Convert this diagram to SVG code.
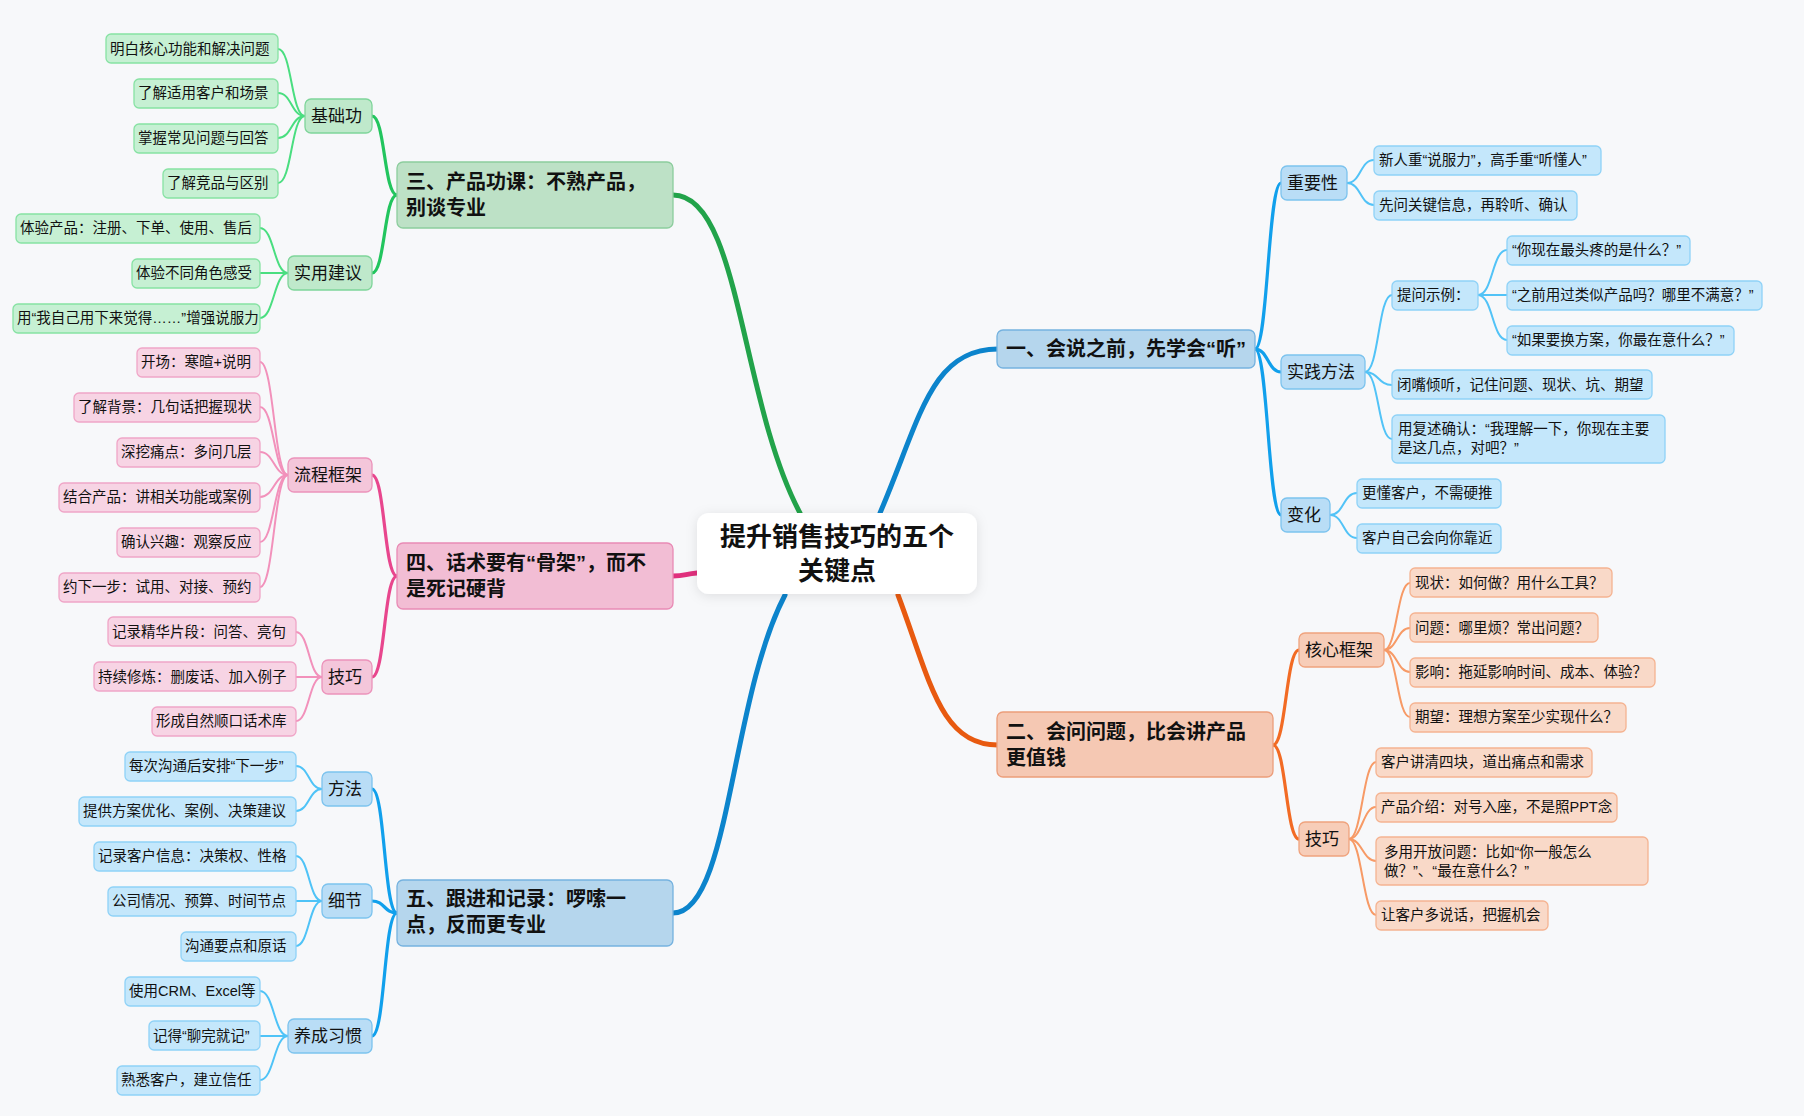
<svg xmlns="http://www.w3.org/2000/svg" width="1804" height="1116" viewBox="0 0 1804 1116">
<defs>
<filter id="sh" x="-20%" y="-30%" width="140%" height="160%"><feDropShadow dx="0" dy="2" stdDeviation="6" flood-color="#000" flood-opacity="0.10"/></filter>
<style>
text{font-family:"Liberation Sans","Noto Sans CJK SC",sans-serif;fill:#111}
.lf{font-size:14.5px;transform:translateX(-2px)}.sb{font-size:17px}.tp{font-size:20px;font-weight:bold}.ct{font-size:26px;font-weight:bold}
.c path{fill:none;stroke-linecap:round}
.m{stroke-width:5}.s{stroke-width:3.2}.l{stroke-width:2}
.bl1{fill:#c4e7fb;stroke:#8fd2f7}.bs{fill:#b9ddf6;stroke:#7cc3ee}.bt{fill:#b5d6ed;stroke:#75b2df}
.gl{fill:#c6f0d3;stroke:#87e2a3}.gs{fill:#bfe9cb;stroke:#7fd59a}.gt{fill:#bde1c6;stroke:#8ccd9d}
.pl{fill:#f7d4e4;stroke:#f0a5c7}.ps{fill:#f4c6da;stroke:#ec93bb}.pt{fill:#f2bdd4;stroke:#e98ab5}
.ol{fill:#f9d9c8;stroke:#f5b391}.os{fill:#f7cdb8;stroke:#f0a37d}.ot{fill:#f5c8b3;stroke:#ec9d7a}
rect{stroke-width:1.3}
</style>
</defs>
<rect width="1804" height="1116" fill="#f7f8fa"/>

<g id="connectors" class="c">
<path class="m" stroke="#0c84cc" d="M880,513 C920,420 930,349 998,349"/>
<path class="m" stroke="#e85a10" d="M898,595 C930,680 940,745 998,745"/>
<path class="m" stroke="#22a34a" d="M800,513 C740,400 740,195 673,195"/>
<path class="m" stroke="#e0307d" d="M697,573 C685,574 685,576 673,576"/>
<path class="m" stroke="#0c84cc" d="M785,595 C730,700 730,913 673,913"/>
<path class="s" stroke="#11a0ec" d="M1255,349 C1268,349 1268,183 1281,183"/>
<path class="s" stroke="#11a0ec" d="M1255,349 C1268,349 1268,372 1281,372"/>
<path class="s" stroke="#11a0ec" d="M1255,349 C1268,349 1268,515 1281,515"/>
<path class="s" stroke="#f26b24" d="M1273,745 C1286,745 1286,650 1299,650"/>
<path class="s" stroke="#f26b24" d="M1273,745 C1286,745 1286,839 1299,839"/>
<path class="s" stroke="#22c55e" d="M397,195 C384,195 385,116 372,116"/>
<path class="s" stroke="#22c55e" d="M397,195 C384,195 385,273 372,273"/>
<path class="s" stroke="#e8468d" d="M397,576 C384,576 385,475 372,475"/>
<path class="s" stroke="#e8468d" d="M397,576 C384,576 385,677 372,677"/>
<path class="s" stroke="#11a0ec" d="M397,913 C384,913 385,789 372,789"/>
<path class="s" stroke="#11a0ec" d="M397,913 C384,913 385,901 372,901"/>
<path class="s" stroke="#11a0ec" d="M397,913 C384,913 385,1036 372,1036"/>
<g stroke="#52c3f7">
<path class="l" d="M1347,183 C1361,183 1360,160 1374,160"/>
<path class="l" d="M1347,183 C1361,183 1360,205 1374,205"/>
<path class="l" d="M1365,372 C1379,372 1378,295 1392,295"/>
<path class="l" d="M1365,372 C1379,372 1378,385 1392,385"/>
<path class="l" d="M1365,372 C1379,372 1378,439 1392,439"/>
<path class="l" d="M1478,295 C1493,295 1492,250 1507,250"/>
<path class="l" d="M1478,295 L1507,295"/>
<path class="l" d="M1478,295 C1493,295 1492,340 1507,340"/>
<path class="l" d="M1330,515 C1344,515 1343,493 1357,493"/>
<path class="l" d="M1330,515 C1344,515 1343,538 1357,538"/>
</g>
<g stroke="#f79a66">
<path class="l" d="M1384,650 C1397,650 1397,583 1410,583"/>
<path class="l" d="M1384,650 C1397,650 1397,628 1410,628"/>
<path class="l" d="M1384,650 C1397,650 1397,672 1410,672"/>
<path class="l" d="M1384,650 C1397,650 1397,717 1410,717"/>
<path class="l" d="M1349,839 C1362,839 1363,762 1376,762"/>
<path class="l" d="M1349,839 C1362,839 1363,807 1376,807"/>
<path class="l" d="M1349,839 C1362,839 1363,861 1376,861"/>
<path class="l" d="M1349,839 C1362,839 1363,915 1376,915"/>
</g>
<g stroke="#4ade80">
<path class="l" d="M305,116 C291,116 292,49 278,49"/>
<path class="l" d="M305,116 C291,116 292,93 278,93"/>
<path class="l" d="M305,116 C291,116 292,138 278,138"/>
<path class="l" d="M305,116 C291,116 292,183 278,183"/>
<path class="l" d="M288,273 C274,273 274,228 260,228"/>
<path class="l" d="M288,273 L260,273"/>
<path class="l" d="M288,273 C274,273 274,318 260,318"/>
</g>
<g stroke="#f291bb">
<path class="l" d="M288,475 C274,475 274,362 260,362"/>
<path class="l" d="M288,475 C274,475 274,407 260,407"/>
<path class="l" d="M288,475 C274,475 274,452 260,452"/>
<path class="l" d="M288,475 C274,475 274,497 260,497"/>
<path class="l" d="M288,475 C274,475 274,542 260,542"/>
<path class="l" d="M288,475 C274,475 274,587 260,587"/>
<path class="l" d="M322,677 C309,677 309,632 296,632"/>
<path class="l" d="M322,677 L296,677"/>
<path class="l" d="M322,677 C309,677 309,721 296,721"/>
</g>
<g stroke="#4fc3f7">
<path class="l" d="M322,789 C309,789 309,766 296,766"/>
<path class="l" d="M322,789 C309,789 309,811 296,811"/>
<path class="l" d="M322,901 C309,901 309,856 296,856"/>
<path class="l" d="M322,901 L296,901"/>
<path class="l" d="M322,901 C309,901 309,946 296,946"/>
<path class="l" d="M288,1036 C274,1036 274,991 260,991"/>
<path class="l" d="M288,1036 L260,1036"/>
<path class="l" d="M288,1036 C274,1036 274,1080 260,1080"/>
</g>
</g>

<g id="center">
<rect x="697" y="513" width="280" height="81" rx="12" fill="#ffffff" stroke="none" filter="url(#sh)"/>
<text class="ct" x="837" y="546" text-anchor="middle">提升销售技巧的五个</text>
<text class="ct" x="837" y="580" text-anchor="middle">关键点</text>
</g>

<g id="topic1"><rect class="bt" x="997" y="330" width="258" height="38" rx="6"/><text class="tp" x="1006" y="356">一、会说之前，先学会“听”</text></g>
<g id="t1-s1"><rect class="bs" x="1281" y="166" width="66" height="34" rx="6"/><text class="sb" x="1287" y="189">重要性</text></g>
<g id="t1-s1-l1"><rect class="bl1" x="1374" y="146" width="227" height="29" rx="5"/><text class="lf" x="1381" y="165">新人重“说服力”，高手重“听懂人”</text></g>
<g id="t1-s1-l2"><rect class="bl1" x="1374" y="191" width="203" height="29" rx="5"/><text class="lf" x="1381" y="210">先问关键信息，再聆听、确认</text></g>
<g id="t1-s2"><rect class="bs" x="1281" y="355" width="84" height="34" rx="6"/><text class="sb" x="1287" y="378">实践方法</text></g>
<g id="t1-s2-l1"><rect class="bl1" x="1392" y="281" width="86" height="29" rx="5"/><text class="lf" x="1399" y="300">提问示例：</text></g>
<g id="t1-s2-l1a"><rect class="bl1" x="1507" y="236" width="183" height="29" rx="5"/><text class="lf" x="1514" y="255">“你现在最头疼的是什么？”</text></g>
<g id="t1-s2-l1b"><rect class="bl1" x="1507" y="281" width="255" height="29" rx="5"/><text class="lf" x="1514" y="300">“之前用过类似产品吗？哪里不满意？”</text></g>
<g id="t1-s2-l1c"><rect class="bl1" x="1507" y="326" width="227" height="29" rx="5"/><text class="lf" x="1514" y="345">“如果要换方案，你最在意什么？”</text></g>
<g id="t1-s2-l2"><rect class="bl1" x="1392" y="370" width="260" height="29" rx="5"/><text class="lf" x="1399" y="390">闭嘴倾听，记住问题、现状、坑、期望</text></g>
<g id="t1-s2-l3"><rect class="bl1" x="1392" y="415" width="273" height="48" rx="5"/><text class="lf" x="1400" y="434">用复述确认：“我理解一下，你现在主要</text><text class="lf" x="1400" y="453">是这几点，对吧？”</text></g>
<g id="t1-s3"><rect class="bs" x="1281" y="498" width="49" height="34" rx="6"/><text class="sb" x="1287" y="521">变化</text></g>
<g id="t1-s3-l1"><rect class="bl1" x="1357" y="479" width="144" height="29" rx="5"/><text class="lf" x="1364" y="498">更懂客户，不需硬推</text></g>
<g id="t1-s3-l2"><rect class="bl1" x="1357" y="524" width="144" height="29" rx="5"/><text class="lf" x="1364" y="543">客户自己会向你靠近</text></g>

<g id="topic2"><rect class="ot" x="997" y="712" width="276" height="65" rx="6"/><text class="tp" x="1006" y="739">二、会问问题，比会讲产品</text><text class="tp" x="1006" y="765">更值钱</text></g>
<g id="t2-s1"><rect class="os" x="1299" y="633" width="85" height="34" rx="6"/><text class="sb" x="1305" y="656">核心框架</text></g>
<g id="t2-s1-l1"><rect class="ol" x="1410" y="568" width="202" height="29" rx="5"/><text class="lf" x="1417" y="588">现状：如何做？用什么工具？</text></g>
<g id="t2-s1-l2"><rect class="ol" x="1410" y="613" width="188" height="29" rx="5"/><text class="lf" x="1417" y="633">问题：哪里烦？常出问题？</text></g>
<g id="t2-s1-l3"><rect class="ol" x="1410" y="658" width="245" height="29" rx="5"/><text class="lf" x="1417" y="677">影响：拖延影响时间、成本、体验？</text></g>
<g id="t2-s1-l4"><rect class="ol" x="1410" y="703" width="216" height="29" rx="5"/><text class="lf" x="1417" y="722">期望：理想方案至少实现什么？</text></g>
<g id="t2-s2"><rect class="os" x="1299" y="822" width="50" height="34" rx="6"/><text class="sb" x="1305" y="845">技巧</text></g>
<g id="t2-s2-l1"><rect class="ol" x="1376" y="748" width="216" height="29" rx="5"/><text class="lf" x="1383" y="767">客户讲清四块，道出痛点和需求</text></g>
<g id="t2-s2-l2"><rect class="ol" x="1376" y="793" width="241" height="29" rx="5"/><text class="lf" x="1383" y="812">产品介绍：对号入座，不是照PPT念</text></g>
<g id="t2-s2-l3"><rect class="ol" x="1376" y="837" width="272" height="48" rx="5"/><text class="lf" x="1386" y="857">多用开放问题：比如“你一般怎么</text><text class="lf" x="1386" y="876">做？”、“最在意什么？”</text></g>
<g id="t2-s2-l4"><rect class="ol" x="1376" y="901" width="172" height="29" rx="5"/><text class="lf" x="1383" y="920">让客户多说话，把握机会</text></g>

<g id="topic3"><rect class="gt" x="397" y="162" width="276" height="66" rx="6"/><text class="tp" x="406" y="189">三、产品功课：不熟产品，</text><text class="tp" x="406" y="215">别谈专业</text></g>
<g id="t3-s1"><rect class="gs" x="305" y="99" width="67" height="34" rx="6"/><text class="sb" x="311" y="122">基础功</text></g>
<g id="t3-s1-l1"><rect class="gl" x="106" y="34" width="172" height="29" rx="5"/><text class="lf" x="112" y="54">明白核心功能和解决问题</text></g>
<g id="t3-s1-l2"><rect class="gl" x="134" y="79" width="144" height="29" rx="5"/><text class="lf" x="140" y="98">了解适用客户和场景</text></g>
<g id="t3-s1-l3"><rect class="gl" x="134" y="124" width="144" height="29" rx="5"/><text class="lf" x="140" y="143">掌握常见问题与回答</text></g>
<g id="t3-s1-l4"><rect class="gl" x="163" y="169" width="115" height="29" rx="5"/><text class="lf" x="169" y="188">了解竞品与区别</text></g>
<g id="t3-s2"><rect class="gs" x="288" y="256" width="84" height="34" rx="6"/><text class="sb" x="294" y="279">实用建议</text></g>
<g id="t3-s2-l1"><rect class="gl" x="16" y="214" width="244" height="29" rx="5"/><text class="lf" x="22" y="233">体验产品：注册、下单、使用、售后</text></g>
<g id="t3-s2-l2"><rect class="gl" x="132" y="259" width="128" height="29" rx="5"/><text class="lf" x="138" y="278">体验不同角色感受</text></g>
<g id="t3-s2-l3"><rect class="gl" x="13" y="304" width="247" height="29" rx="5"/><text class="lf" x="19" y="323">用“我自己用下来觉得……”增强说服力</text></g>

<g id="topic4"><rect class="pt" x="397" y="543" width="276" height="66" rx="6"/><text class="tp" x="406" y="570">四、话术要有“骨架”，而不</text><text class="tp" x="406" y="596">是死记硬背</text></g>
<g id="t4-s1"><rect class="ps" x="288" y="458" width="84" height="34" rx="6"/><text class="sb" x="294" y="481">流程框架</text></g>
<g id="t4-s1-l1"><rect class="pl" x="137" y="348" width="123" height="29" rx="5"/><text class="lf" x="143" y="367">开场：寒暄+说明</text></g>
<g id="t4-s1-l2"><rect class="pl" x="74" y="393" width="186" height="29" rx="5"/><text class="lf" x="80" y="412">了解背景：几句话把握现状</text></g>
<g id="t4-s1-l3"><rect class="pl" x="117" y="438" width="143" height="29" rx="5"/><text class="lf" x="123" y="457">深挖痛点：多问几层</text></g>
<g id="t4-s1-l4"><rect class="pl" x="59" y="483" width="201" height="29" rx="5"/><text class="lf" x="65" y="502">结合产品：讲相关功能或案例</text></g>
<g id="t4-s1-l5"><rect class="pl" x="117" y="528" width="143" height="29" rx="5"/><text class="lf" x="123" y="547">确认兴趣：观察反应</text></g>
<g id="t4-s1-l6"><rect class="pl" x="59" y="573" width="201" height="29" rx="5"/><text class="lf" x="65" y="592">约下一步：试用、对接、预约</text></g>
<g id="t4-s2"><rect class="ps" x="322" y="660" width="50" height="34" rx="6"/><text class="sb" x="328" y="683">技巧</text></g>
<g id="t4-s2-l1"><rect class="pl" x="108" y="617" width="188" height="29" rx="5"/><text class="lf" x="114" y="637">记录精华片段：问答、亮句</text></g>
<g id="t4-s2-l2"><rect class="pl" x="94" y="662" width="202" height="29" rx="5"/><text class="lf" x="100" y="682">持续修炼：删废话、加入例子</text></g>
<g id="t4-s2-l3"><rect class="pl" x="152" y="707" width="144" height="29" rx="5"/><text class="lf" x="158" y="726">形成自然顺口话术库</text></g>

<g id="topic5"><rect class="bt" x="397" y="880" width="276" height="66" rx="6"/><text class="tp" x="406" y="906">五、跟进和记录：啰嗦一</text><text class="tp" x="406" y="932">点，反而更专业</text></g>
<g id="t5-s1"><rect class="bs" x="322" y="772" width="50" height="34" rx="6"/><text class="sb" x="328" y="795">方法</text></g>
<g id="t5-s1-l1"><rect class="bl1" x="125" y="752" width="171" height="29" rx="5"/><text class="lf" x="131" y="771">每次沟通后安排“下一步”</text></g>
<g id="t5-s1-l2"><rect class="bl1" x="79" y="797" width="217" height="29" rx="5"/><text class="lf" x="85" y="816">提供方案优化、案例、决策建议</text></g>
<g id="t5-s2"><rect class="bs" x="322" y="884" width="50" height="34" rx="6"/><text class="sb" x="328" y="907">细节</text></g>
<g id="t5-s2-l1"><rect class="bl1" x="94" y="842" width="202" height="29" rx="5"/><text class="lf" x="100" y="861">记录客户信息：决策权、性格</text></g>
<g id="t5-s2-l2"><rect class="bl1" x="108" y="887" width="188" height="29" rx="5"/><text class="lf" x="114" y="906">公司情况、预算、时间节点</text></g>
<g id="t5-s2-l3"><rect class="bl1" x="181" y="932" width="115" height="29" rx="5"/><text class="lf" x="187" y="951">沟通要点和原话</text></g>
<g id="t5-s3"><rect class="bs" x="288" y="1019" width="84" height="34" rx="6"/><text class="sb" x="294" y="1042">养成习惯</text></g>
<g id="t5-s3-l1"><rect class="bl1" x="125" y="977" width="135" height="29" rx="5"/><text class="lf" x="131" y="996">使用CRM、Excel等</text></g>
<g id="t5-s3-l2"><rect class="bl1" x="149" y="1021" width="111" height="29" rx="5"/><text class="lf" x="155" y="1041">记得“聊完就记”</text></g>
<g id="t5-s3-l3"><rect class="bl1" x="117" y="1066" width="143" height="29" rx="5"/><text class="lf" x="123" y="1085">熟悉客户，建立信任</text></g>
</svg>
